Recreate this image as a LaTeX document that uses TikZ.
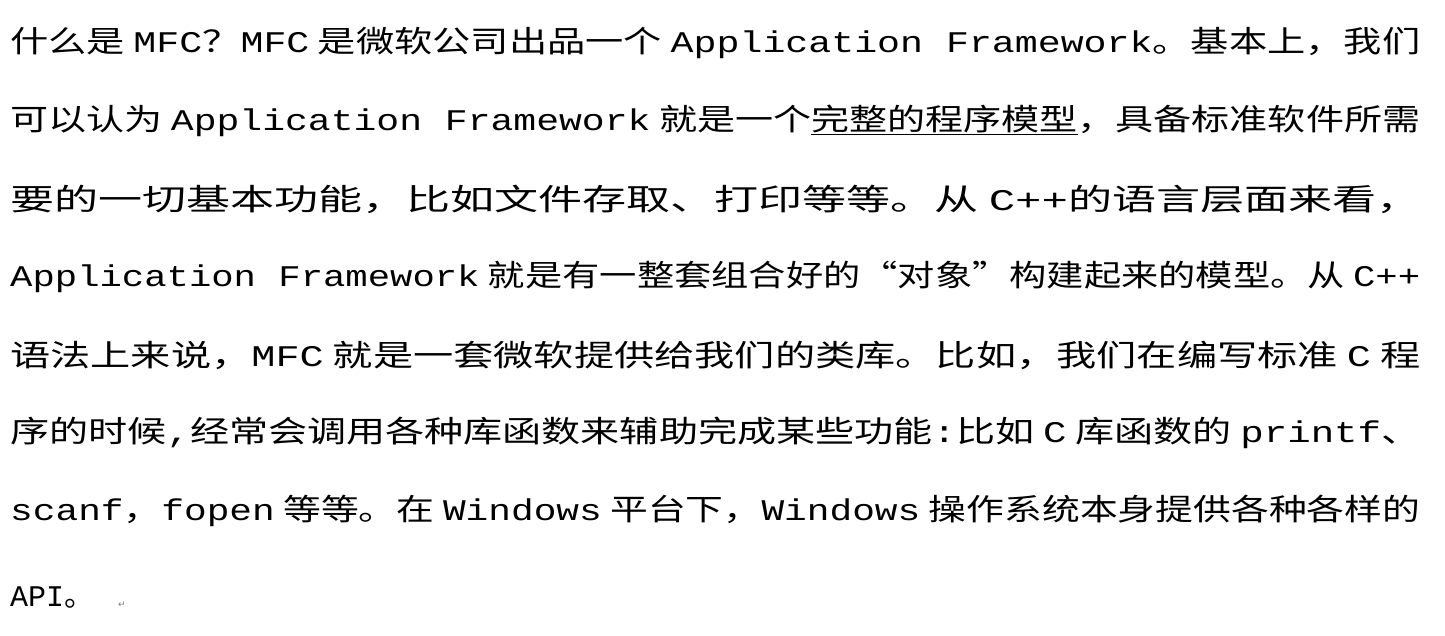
\documentclass[tikz,border=0pt]{standalone}
\usepackage{fontspec}
\setmainfont{Noto Sans CJK SC}
\newfontfamily\symf{DejaVu Sans}
\newfontfamily\monof{Liberation Mono}
\newcommand{\mm}[1]{{\monof #1}}
\usepackage{graphicx}
\begin{document}
\begin{tikzpicture}[x=1pt,y=1pt,
  ln/.style={anchor=west,inner sep=0pt,font=\fontsize{30}{30}\selectfont}]
\useasboundingbox (0,0) rectangle (1445,635);
\fill[white] (0,0) rectangle (1445,635);
\node[ln] (l1) at (10,592) {\resizebox{1410pt}{\height}{什么是 \mm{MFC}？\mm{MFC} 是微软公司出品一个 \mm{Application Framework}。基本上，我们}};
\node[ln] (l2) at (10,514) {\resizebox{1410pt}{\height}{可以认为 \mm{Application Framework} 就是一个\underline{完整的程序模型}，具备标准软件所需}};
\node[ln] (l3) at (10,436) {\resizebox{1410pt}{\height}{要的一切基本功能，比如文件存取、打印等等。从 \mm{C++}的语言层面来看，}};
\node[ln] (l4) at (10,358) {\resizebox{1410pt}{\height}{\mm{Application Framework} 就是有一整套组合好的“对象”构建起来的模型。从 \mm{C++}}};
\node[ln] (l5) at (10,280) {\resizebox{1410pt}{\height}{语法上来说，\mm{MFC} 就是一套微软提供给我们的类库。比如，我们在编写标准 \mm{C} 程}};
\node[ln] (l6) at (10,202) {\resizebox{1410pt}{\height}{序的时候\mm{,}经常会调用各种库函数来辅助完成某些功能\mm{:}比如 \mm{C} 库函数的 \mm{printf}、}};
\node[ln] (l7) at (10,124) {\resizebox{1410pt}{\height}{\mm{scanf}，\mm{fopen} 等等。在 \mm{Windows} 平台下，\mm{Windows} 操作系统本身提供各种各样的}};
\node[ln] (l8) at (10,37) {\mm{API}。};
\node[anchor=west,inner sep=0pt,font=\symf\fontsize{9}{9}\selectfont,text=gray] (rm) at (118,30) {↵};
\end{tikzpicture}
\end{document}
